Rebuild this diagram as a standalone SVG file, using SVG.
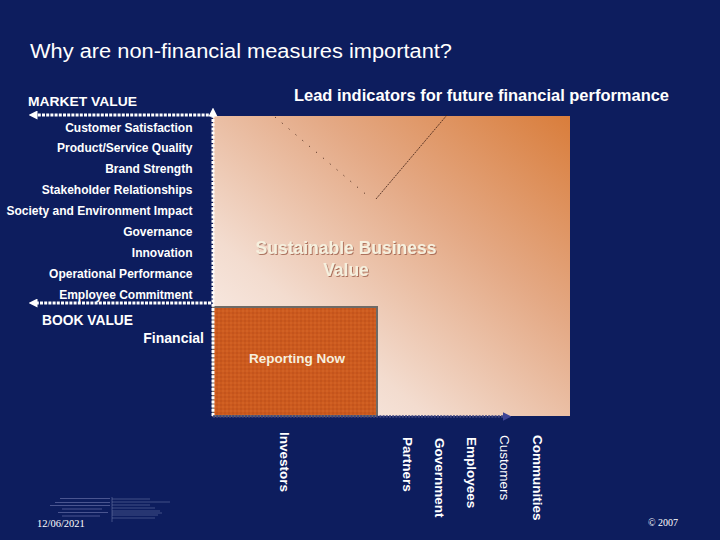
<svg xmlns="http://www.w3.org/2000/svg" width="720" height="540" viewBox="0 0 720 540">
<defs>
<style>
.lbl{font-family:"Liberation Sans",Arial,sans-serif;font-weight:bold;font-size:12px;fill:#ffffff;text-anchor:end}
.hd{font-family:"Liberation Sans",Arial,sans-serif;font-weight:bold;fill:#ffffff}
.vt{font-family:"Liberation Sans",Arial,sans-serif;font-weight:bold;font-size:13.5px;fill:#ffffff}
.cream{font-family:"Liberation Sans",Arial,sans-serif;font-weight:bold;fill:#f6f0de;text-anchor:middle}
.wdash{stroke:#ffffff;stroke-width:3;stroke-dasharray:3 1.2;fill:none}
.tiny{stroke:#8e97c0;stroke-width:0.6;opacity:0.7}
.tinyl{stroke:#4a5590;stroke-width:1}
</style>
<linearGradient id="sbv" x1="0" y1="1" x2="1" y2="0">
<stop offset="0" stop-color="#fcf6f4"/>
<stop offset="0.3" stop-color="#f3dccf"/>
<stop offset="0.65" stop-color="#e4a985"/>
<stop offset="1" stop-color="#d97d3b"/>
</linearGradient>
<pattern id="tex" width="4" height="4" patternUnits="userSpaceOnUse">
<rect width="4" height="4" fill="#cc5a1e"/>
<circle cx="1" cy="1" r="0.8" fill="#b84c18"/>
<circle cx="3" cy="3" r="0.8" fill="#d96a2a"/>
</pattern>
<filter id="shadow" x="-10%" y="-30%" width="120%" height="160%">
<feDropShadow dx="1" dy="1" stdDeviation="0.5" flood-color="#a06450" flood-opacity="0.85"/>
</filter>
<marker id="wArrow" viewBox="0 0 10 10" refX="5" refY="5" markerWidth="3" markerHeight="3" orient="auto">
<path d="M0,0 L10,5 L0,10 z" fill="#ffffff"/>
</marker>
<marker id="bArrow" viewBox="0 0 10 10" refX="5" refY="5" markerWidth="3.5" markerHeight="3.5" orient="auto">
<path d="M0,0 L10,5 L0,10 z" fill="#3f4596"/>
</marker>
</defs>
<rect width="720" height="540" fill="#0d1d5e"/>

<text class="hd" x="30" y="58" font-size="20" textLength="422" lengthAdjust="spacingAndGlyphs" style="font-weight:normal">Why are non-financial measures important?</text>

<g id="sbv-area">
<rect x="213" y="116" width="357" height="300" fill="url(#sbv)"/>
<text class="cream" x="346" y="254" font-size="17.5" filter="url(#shadow)">Sustainable Business</text>
<text class="cream" x="346" y="276" font-size="17.5" filter="url(#shadow)">Value</text>
</g>

<g id="reporting-now">
<rect x="213" y="307" width="164" height="109" fill="url(#tex)" stroke="#6e6a66" stroke-width="2"/>
<text class="cream" x="297" y="363" font-size="13.5">Reporting Now</text>
</g>

<g id="connectors">
<line x1="275" y1="117" x2="369" y2="197" stroke="#3a1c12" stroke-width="1" stroke-dasharray="1 8"/>
<line x1="376" y1="199" x2="447" y2="115" stroke="#3a1c12" stroke-width="0.8" stroke-dasharray="2 1"/>
<line class="wdash" x1="213" y1="416" x2="213" y2="112" marker-end="url(#wArrow)"/>
<line class="wdash" x1="213" y1="115" x2="33" y2="115" marker-end="url(#wArrow)"/>
<line class="wdash" x1="211" y1="303" x2="33" y2="303" marker-end="url(#wArrow)"/>
<line x1="213" y1="416.5" x2="507" y2="416.5" stroke="#3c4480" stroke-width="2.5" stroke-dasharray="2 1.2" marker-end="url(#bArrow)"/>
</g>

<g id="market-value">
<text class="hd" x="28" y="106" font-size="13.5" textLength="109" lengthAdjust="spacingAndGlyphs">MARKET VALUE</text>
</g>
<g id="lead-indicators">
<text class="hd" x="294" y="101" font-size="16" textLength="375" lengthAdjust="spacingAndGlyphs">Lead indicators for future financial performance</text>
</g>

<g id="measures">
<text class="lbl" x="192.5" y="132">Customer Satisfaction</text>
<text class="lbl" x="192.5" y="152">Product/Service Quality</text>
<text class="lbl" x="192.5" y="172.5">Brand Strength</text>
<text class="lbl" x="192.5" y="194">Stakeholder Relationships</text>
<text class="lbl" x="192.5" y="214.5">Society and Environment Impact</text>
<text class="lbl" x="192.5" y="236">Governance</text>
<text class="lbl" x="192.5" y="257">Innovation</text>
<text class="lbl" x="192.5" y="277.5">Operational Performance</text>
<text class="lbl" x="192.5" y="299">Employee Commitment</text>
</g>

<g id="book-value">
<text class="hd" x="42" y="325" font-size="14" textLength="91" lengthAdjust="spacingAndGlyphs">BOOK VALUE</text>
</g>
<g id="financial">
<text class="hd" x="204" y="343" font-size="14" text-anchor="end">Financial</text>
</g>

<g id="stakeholders">
<text class="vt" transform="translate(533,435) rotate(90)">Communities</text>
<text class="vt" transform="translate(500,435) rotate(90)" style="font-weight:normal">Customers</text>
<text class="vt" transform="translate(467,437) rotate(90)">Employees</text>
<text class="vt" transform="translate(435,438) rotate(90)">Government</text>
<text class="vt" transform="translate(403,437) rotate(90)">Partners</text>
<text class="vt" transform="translate(280,432) rotate(90)" font-size="17.5">Investors</text>
</g>

<g id="footer">
<g id="thumb">
<line class="tiny" x1="112" y1="497" x2="112" y2="522"/>
<line class="tiny" x1="112" y1="499" x2="150" y2="499"/>
<line class="tiny" x1="112" y1="502" x2="170" y2="502"/>
<line class="tiny" x1="112" y1="505" x2="150" y2="505"/>
<line class="tiny" x1="112" y1="508" x2="155" y2="508"/>
<line class="tiny" x1="112" y1="511" x2="160" y2="511"/>
<line class="tiny" x1="112" y1="513" x2="162" y2="513"/>
<line class="tiny" x1="112" y1="515" x2="158" y2="515"/>
<line class="tiny" x1="112" y1="518" x2="155" y2="518"/>
<line class="tinyl" x1="60" y1="498.5" x2="110" y2="498.5"/>
<line class="tinyl" x1="55" y1="502.5" x2="110" y2="502.5"/>
<line class="tinyl" x1="50" y1="505.5" x2="110" y2="505.5"/>
<line class="tinyl" x1="62" y1="509" x2="102" y2="509" stroke-width="2"/>
<line class="tinyl" x1="58" y1="512.5" x2="108" y2="512.5"/>
<line class="tinyl" x1="62" y1="516" x2="100" y2="516"/>
</g>
<text x="37" y="527" font-family="'Liberation Serif','Times New Roman',serif" font-size="10.5" fill="#ffffff">12/06/2021</text>
<text x="648" y="526" font-family="'Liberation Serif','Times New Roman',serif" font-size="10" fill="#ffffff">© 2007</text>
</g>
</svg>
